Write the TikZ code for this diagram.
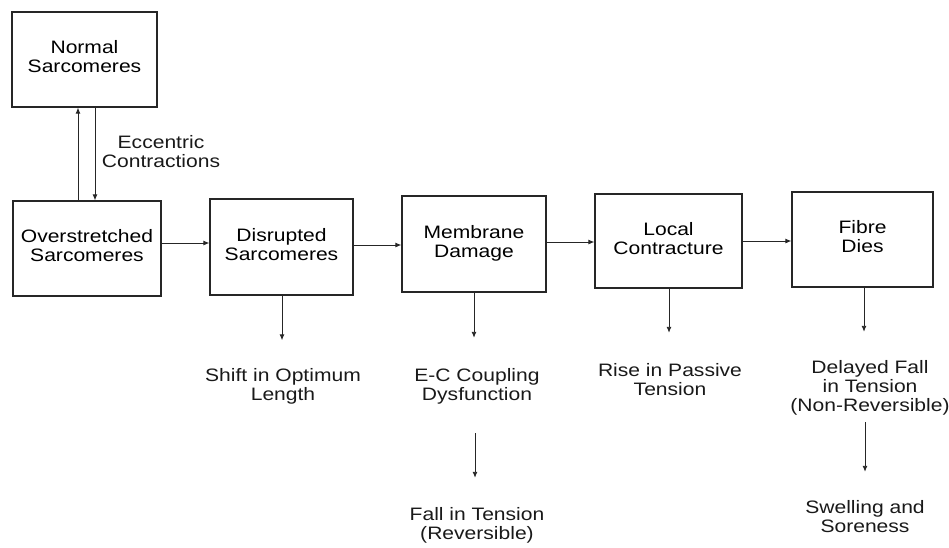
\documentclass[tikz,border=0pt]{standalone}
\usepackage{fontspec}
\setmainfont{Liberation Sans}
\usetikzlibrary{arrows.meta}
\newcommand\wide[1]{\scalebox{1.17}[1]{\fontsize{18}{19}\selectfont\def\arraystretch{1}\begin{tabular}{@{}c@{}}#1\end{tabular}}}
\tikzset{
  blk/.style={draw=black!85, line width=1.2pt, inner sep=0pt},
  lbl/.style={inner sep=0pt, text=black!90},
  arr/.style={draw=black!85, line width=0.9pt, -{Latex[length=6pt,width=5pt]}}
}
\begin{document}
\begin{tikzpicture}[x=1pt,y=-1pt]
\useasboundingbox (0,0) rectangle (949,547);
% boxes
\node[blk, minimum width=145pt, minimum height=95pt] (normal) at (84.5,59.5) {\wide{Normal\\Sarcomeres}};
\node[blk, minimum width=148pt, minimum height=95pt] (over) at (87,248.5) {\raisebox{10pt}{\wide{Overstretched\\Sarcomeres}}};
\node[blk, minimum width=143pt, minimum height=96pt] (dis) at (281.5,247) {\wide{Disrupted\\Sarcomeres}};
\node[blk, minimum width=144pt, minimum height=96pt] (mem) at (474,244) {\wide{Membrane\\Damage}};
\node[blk, minimum width=147pt, minimum height=94pt] (loc) at (668.5,241) {\wide{Local\\Contracture}};
\node[blk, minimum width=141pt, minimum height=95pt] (fib) at (862.5,239.5) {\raisebox{2pt}{\wide{Fibre\\Dies}}};
% labels
\node[lbl] (ecc) at (161,154) {\wide{Eccentric\\Contractions}};
\node[lbl] (shiftT) at (283,387.5) {\wide{Shift in Optimum\\Length}};
\node[lbl] (ecT) at (477,387.5) {\wide{E-C Coupling\\Dysfunction}};
\node[lbl] (fallT) at (477,526) {\wide{Fall in Tension\\(Reversible)}};
\node[lbl] (riseT) at (670,382) {\wide{Rise in Passive\\Tension}};
\node[lbl] (delT) at (870,388.5) {\wide{Delayed Fall\\in Tension\\(Non-Reversible)}};
\node[lbl] (swT) at (865,519) {\wide{Swelling and\\Soreness}};
% connectors
\draw[arr] (over.north -| 78,0) -- (normal.south -| 78,0);
\draw[arr] (normal.south -| 95,0) -- (over.north -| 95,0);
\draw[arr] (over.east |- 0,243) -- (dis.west |- 0,243);
\draw[arr] (dis.east |- 0,245) -- (mem.west |- 0,245);
\draw[arr] (mem.east |- 0,242) -- (loc.west |- 0,242);
\draw[arr] (loc.east |- 0,241) -- (fib.west |- 0,241);
\draw[arr, shorten >=28pt] (dis.south -| 282,0) -- (shiftT.north -| 282,0);
\draw[arr, shorten >=30.5pt] (mem.south -| 474,0) -- (ecT.north -| 474,0);
\draw[arr, shorten <=26.5pt, shorten >=29pt] (ecT.south -| 475,0) -- (fallT.north -| 475,0);
\draw[arr, shorten >=30pt] (loc.south -| 669,0) -- (riseT.north -| 669,0);
\draw[arr, shorten >=28pt] (fib.south -| 864,0) -- (delT.north -| 864,0);
\draw[arr, shorten <=5pt, shorten >=28pt] (delT.south -| 865,0) -- (swT.north -| 865,0);
\end{tikzpicture}
\end{document}
